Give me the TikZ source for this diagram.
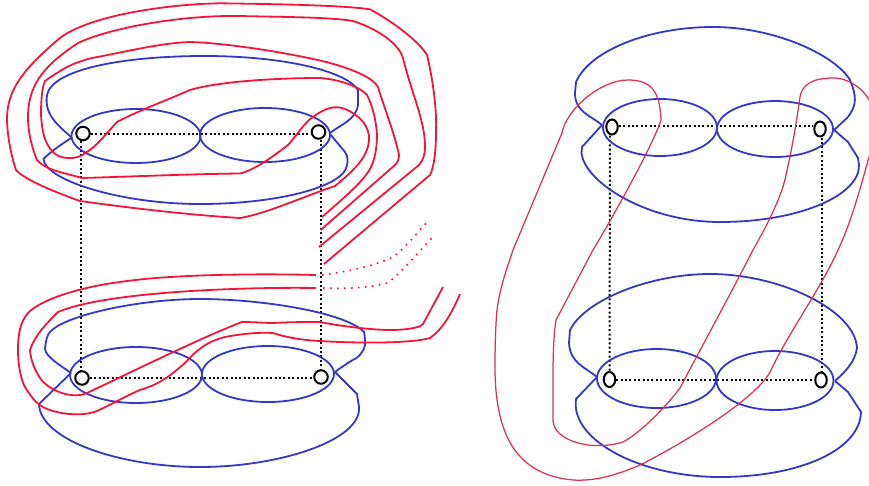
\documentclass[tikz,border=0pt]{standalone}
\usetikzlibrary{shapes.geometric}
\definecolor{bl}{HTML}{3636C8}
\definecolor{rd}{HTML}{F4143C}
\definecolor{rt}{HTML}{E0304F}
\tikzset{
  bluec/.style={draw=bl,line width=1.8pt},
  redc/.style={draw=rd,line width=1.8pt},
  redthin/.style={draw=rt,line width=1.25pt},
  reddot/.style={draw=rd,line width=1.6pt,dash pattern=on 1.6pt off 5.4pt},
  grid/.style={draw=black,line width=2pt,dash pattern=on 2pt off 2.4pt},
  roundpt/.style={circle,draw=black,line width=2pt,minimum size=13.5pt,inner sep=0pt},
  ovalpt/.style={ellipse,draw=black,line width=2pt,minimum width=11.5pt,minimum height=15pt,inner sep=0pt},
}
\begin{document}
\begin{tikzpicture}[x=1pt,y=-1pt]
\useasboundingbox (0,0) rectangle (869,485);
\clip (0,0) rectangle (869,485);
% nodes
\node[roundpt] (a) at (83,133.5) {};
\node[roundpt] (b) at (318.5,132) {};
\node[roundpt] (c) at (82,378) {};
\node[roundpt] (d) at (321,377) {};
\node[ovalpt] (e) at (612,127) {};
\node[ovalpt] (f) at (820,129) {};
\node[ovalpt] (g) at (609.5,379.5) {};
\node[ovalpt] (h) at (821,380) {};
% dotted frames
\draw[grid] (a.east) -- (a.east -| b.west);
\draw[grid] (c.east) -- (c.east -| d.west);
\draw[grid] ([xshift=-2pt]a.south) -- ([xshift=-1pt]c.north);
\draw[grid] ([xshift=2.5pt]b.south) -- (d.north);
\draw[grid] ([yshift=1pt]e.east) -- ([yshift=1pt]e.east -| f.west);
\draw[grid] (g.east) -- (g.east -| h.west);
\draw[grid] ([xshift=-2pt]e.south) -- (g.north);
\draw[grid] ([xshift=2pt]f.south) -- ([xshift=1pt]h.north);
% blue, top left
\draw[bluec] (136,136) ellipse [x radius=64.5,y radius=27];
\draw[bluec] (265,135) ellipse [x radius=65,y radius=27];
\draw[bluec] (71,137) .. controls (58,125) and (44,115) .. (47,95) .. controls (52,70) and (120,56) .. (205,56) .. controls (280,56) and (345,70) .. (358,90) -- (358,105) .. controls (356,120) and (340,125) .. (330,133);
\draw[bluec] (71,138) .. controls (62,144) and (50,152) .. (43.5,159) .. controls (45,180) and (120,204) .. (200,204) .. controls (270,204) and (330,190) .. (344,172) .. controls (349,165) and (348,155) .. (345,152) -- (330,134);
% blue, bottom left
\draw[bluec] (136,375) ellipse [x radius=66,y radius=28];
\draw[bluec] (268,374) ellipse [x radius=66,y radius=28];
\draw[bluec] (71,373) .. controls (60,365) and (46,357) .. (45,349) .. controls (46,340) and (47,335) .. (50,332) .. controls (65,315) and (140,299) .. (200,299) .. controls (260,299) and (345,312) .. (364,332) .. controls (365,336) and (365,342) .. (365,345) .. controls (364,352) and (358,358) .. (351,361) .. controls (345,365) and (340,368) .. (335,372);
\draw[bluec] (71,373) -- (39,404) .. controls (40,440) and (120,467) .. (200,467) .. controls (280,467) and (362,440) .. (359,407) -- (357,394) -- (335,372);
% red, top left
\draw[redc] (319,247) -- (419,165) .. controls (423,160) and (425,155) .. (425,147) .. controls (425,120) and (412,95) .. (403,58) .. controls (398,42) and (375,28) .. (353,21) .. controls (330,17) and (280,17) .. (240,16) .. controls (180,15) and (110,28) .. (78,43) .. controls (50,62) and (28,80) .. (28,117) .. controls (28,135) and (33,150) .. (37,160) .. controls (45,170) and (65,173) .. (82,178) .. controls (120,177) and (190,174) .. (240,173.5) .. controls (255,170) and (275,155) .. (288,145) .. controls (297,135) and (305,122) .. (313,117) .. controls (325,108) and (335,105) .. (345,109) .. controls (360,115) and (370,127) .. (369,140) .. controls (368,158) and (352,172) .. (335,186) .. controls (300,198) and (265,214) .. (240,218) .. controls (190,215) and (130,208) .. (80,201) .. controls (55,192) and (25,180) .. (16,170) .. controls (11,155) and (7,135) .. (7,117) .. controls (8,90) and (22,70) .. (60,38) .. controls (90,15) and (170,4) .. (220,3.3) .. controls (270,4) and (340,5) .. (370,9.3) .. controls (390,20) and (418,40) .. (427,55) .. controls (433,80) and (437,110) .. (436,133) .. controls (436,150) and (434,168) .. (430,175) -- (324,264);
\draw[redc] (322,217) .. controls (345,197) and (365,180) .. (371,167) .. controls (377,155) and (378,135) .. (376,125) .. controls (374,112) and (371,103) .. (367,95) .. controls (358,85) and (335,79) .. (320,78) .. controls (280,78) and (220,81) .. (190,90) .. controls (165,101) and (140,110) .. (117,122) .. controls (105,135) and (95,148) .. (85,153) .. controls (78,160) and (60,160) .. (53,152) .. controls (44,143) and (42,130) .. (41,115) .. controls (41,100) and (42,88) .. (45,81) .. controls (52,76) and (60,71) .. (67,67) .. controls (75,63) and (84,60) .. (92,58) .. controls (125,52) and (160,43) .. (190,42) .. controls (230,43) and (300,55) .. (330,63) .. controls (355,70) and (373,78) .. (378,87) .. controls (385,110) and (395,135) .. (399,155) .. controls (399,160) and (397,163) .. (395,165) -- (320.7,230);
% red, bottom left
\draw[redc] (316,275) .. controls (280,274) and (180,273) .. (120,282) .. controls (80,287) and (40,300) .. (28,313) .. controls (20,322) and (18,335) .. (18,350) .. controls (18,368) and (22,382) .. (25,387) .. controls (30,395) and (35,402) .. (40,405) .. controls (50,413) and (80,418) .. (97,411) .. controls (110,405) and (130,394) .. (140,390) .. controls (160,384) and (170,376) .. (185,363) .. controls (195,352) and (205,342) .. (225,337) .. controls (240,334) and (260,332) .. (273,333) .. controls (285,337) and (300,340) .. (320,341) .. controls (350,343) and (410,344) .. (430,338) .. controls (442,330) and (452,313) .. (460,294);
\draw[redc] (316,288) .. controls (260,287) and (110,290) .. (58,312) .. controls (47,323) and (35,335) .. (30,350) .. controls (31,362) and (35,370) .. (40,378) .. controls (48,390) and (72,400) .. (87,393) .. controls (115,380) and (200,338) .. (242,322) .. controls (255,322) and (265,323) .. (273,323) .. controls (290,322) and (305,322) .. (320,322) .. controls (345,327) and (375,330) .. (390,330) .. controls (405,330) and (420,328) .. (423,324) -- (443,287);
% red dotted
\draw[reddot] (322,275) .. controls (345,272) and (375,266) .. (393,257) .. controls (405,248) and (417,233) .. (427,222);
\draw[reddot] (323,288) .. controls (345,289) and (370,288) .. (387,283) .. controls (400,275) and (420,250) .. (433,237);
% blue, right
\draw[bluec] (660,127.5) ellipse [x radius=57,y radius=28.5];
\draw[bluec] (775,129) ellipse [x radius=58,y radius=28];
\draw[bluec] (602,125) .. controls (590,115) and (575,112) .. (575,93) -- (576,82) .. controls (590,50) and (650,27) .. (713,27) .. controls (775,27) and (835,55) .. (850,80) .. controls (856,95) and (858,105) .. (847,118) -- (833,131);
\draw[bluec] (602,125) -- (582,147) .. controls (575,175) and (640,222) .. (720,222) .. controls (800,222) and (860,195) .. (859,165) -- (858,158) -- (848,142) -- (833,129);
\draw[bluec] (656.5,378.5) ellipse [x radius=59.5,y radius=29.5];
\draw[bluec] (775,380.5) ellipse [x radius=58.5,y radius=29.5];
\draw[bluec] (597,377) .. controls (585,367) and (570,363) .. (569,343) -- (570,330) .. controls (585,300) and (650,274) .. (710,274) .. controls (780,274) and (855,310) .. (857,348) .. controls (855,362) and (845,372) .. (835,381);
\draw[bluec] (597,377) -- (576,399) .. controls (570,440) and (640,477) .. (720,477) .. controls (800,477) and (860,450) .. (861,412) -- (848,392) -- (835,381);
% red thin, right
\draw[redthin] (628,80) .. controls (650,80) and (660,90) .. (661,120) .. controls (655,140) and (620,205) .. (593,250) -- (556,320) .. controls (552,345) and (553,390) .. (553,420) .. controls (553,440) and (590,452) .. (623,442) .. controls (640,433) and (665,408) .. (680,388) .. controls (700,350) and (730,295) .. (753,250) .. controls (770,220) and (782,195) .. (786,175) .. controls (795,135) and (798,110) .. (800,97) .. controls (802,85) and (812,78) .. (833,78) .. controls (850,78) and (865,90) .. (872,105) .. controls (880,125) and (875,140) .. (869,157) .. controls (860,190) and (850,225) .. (838,250) .. controls (820,290) and (790,330) .. (770,372) .. controls (755,400) and (680,445) .. (640,465) .. controls (610,478) and (590,481) .. (573,480) .. controls (520,475) and (495,440) .. (495,367) .. controls (495,340) and (496,320) .. (497,310) .. controls (500,285) and (510,260) .. (513,250) -- (562,133) .. controls (566,110) and (600,80) .. (628,80) -- cycle;
\end{tikzpicture}
\end{document}
